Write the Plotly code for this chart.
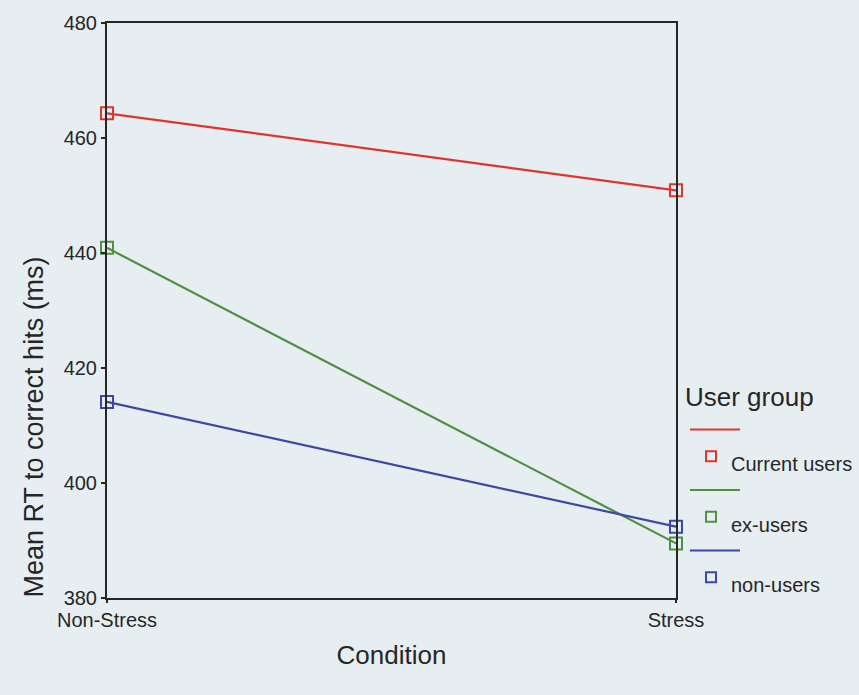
import plotly.graph_objects as go

conditions = ["Non-Stress", "Stress"]
groups = ["Current users", "ex-users", "non-users"]
current_users = [464.3, 450.9]
ex_users = [440.9, 389.5]
non_users = [414.1, 392.4]
colors = ["#e3342c", "#4e9143", "#3e46a6"]
y_ticks = [380, 400, 420, 440, 460, 480]

series = [current_users, ex_users, non_users]
x_pos = list(range(len(conditions)))

W, H = 859, 695
ML, MR, MT, MB = 107, 183, 18, 97
PW, PH = W - ML - MR, H - MT - MB
BG = "#e7eef2"
TXT = "#262626"


def px_x(p):
    return (p - ML) / PW


def px_y(p):
    return (H - MB - p) / PH


fig = go.Figure()
for i, (name, vals) in enumerate(zip(groups, series)):
    fig.add_trace(go.Scatter(
        x=x_pos, y=vals, name=name, mode="lines+markers",
        line=dict(color=colors[i], width=2.2),
        marker=dict(symbol="square-open", size=12, color=colors[i], line=dict(width=2)),
        cliponaxis=False, showlegend=False,
    ))

# SPSS-style legend: line sample above, marker sample below, label beside
shapes = []
annotations = [dict(
    text="User group", xref="paper", yref="paper", x=px_x(683), y=px_y(395),
    xanchor="left", yanchor="middle", showarrow=False, font=dict(size=26, color=TXT),
)]
step = 61
for i, name in enumerate(groups):
    y_line = 428 + i * step
    y_mark = y_line + 27
    shapes.append(dict(type="line", xref="paper", yref="paper",
                       x0=px_x(690), x1=px_x(740), y0=px_y(y_line), y1=px_y(y_line),
                       line=dict(color=colors[i], width=2)))
    shapes.append(dict(type="rect", xref="paper", yref="paper",
                       x0=px_x(706), x1=px_x(716), y0=px_y(y_mark - 5), y1=px_y(y_mark + 5),
                       line=dict(color=colors[i], width=2), fillcolor="rgba(0,0,0,0)"))
    annotations.append(dict(
        text=name, xref="paper", yref="paper", x=px_x(729), y=px_y(y_mark + 8),
        xanchor="left", yanchor="middle", showarrow=False, font=dict(size=20, color=TXT),
    ))

annotations.append(dict(
    text="Mean RT to correct hits (ms)", textangle=-90,
    xref="paper", yref="paper", x=px_x(34), y=px_y(600),
    xanchor="center", yanchor="bottom", showarrow=False,
    font=dict(size=27, color=TXT),
))

font_family = "Liberation Sans, Arial, sans-serif"
fig.update_layout(
    width=W, height=H,
    margin=dict(l=ML, r=MR, t=MT, b=MB),
    paper_bgcolor=BG, plot_bgcolor=BG,
    font=dict(family=font_family, color=TXT, size=19),
    showlegend=False,
    xaxis=dict(
        range=[0, 1], tickvals=x_pos, ticktext=conditions,
        showgrid=False, zeroline=False,
        showline=True, linecolor="#262626", linewidth=2, mirror=True,
        ticks="outside", ticklen=3, tickcolor="#262626", tickwidth=2,
        tickfont=dict(size=20),
        title=dict(text="Condition", font=dict(size=26), standoff=16),
    ),
    yaxis=dict(
        range=[380, 480], tickvals=y_ticks,
        showgrid=False, zeroline=False,
        showline=True, linecolor="#262626", linewidth=2, mirror=True,
        ticks="outside", ticklen=4, tickcolor="#262626", tickwidth=2,
        tickfont=dict(size=20),
    ),
    shapes=shapes,
    annotations=annotations,
)

fig.write_html(
    "out.html",
    config={"displayModeBar": False},
    post_script="document.body.style.margin='0';document.body.style.background='%s';" % BG,
)
